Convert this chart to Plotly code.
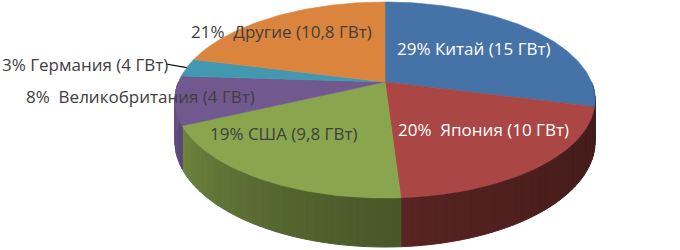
import math
import plotly.graph_objects as go

# ---- data ----
countries = ["Китай", "Япония", "США", "Великобритания", "Германия", "Другие"]
percents = [29, 20, 19, 8, 3, 21]
capacity_gw = ["15", "10", "9,8", "4", "4", "10,8"]

# ---- style ----
colors = ["#4572A7", "#AA4643", "#89A54E", "#71588F", "#4198AF", "#DB843D"]
label_colors = ["white", "white", "#404040", "#404040", "#404040", "#404040"]
label_gap = [" ", "\u00a0 ", " ", "\u00a0 ", " ", "\u00a0 "]
label_pos = [(473, 48, "center"), (483, 129, "center"), (283, 133, "center"),
             (140, 96, "center"), (0, 64, "left"), (281, 31, "center")]
FONT = "Open Sans"
FSIZE = 17

# pseudo-perspective geometry of the 3D pie (pixel space)
CX, CY = 385.0, 82.0
K = 0.1837
A = 206.5
B = 94.7
DEPTH = 40.0


def proj(theta_deg, drop=0.0):
    t = math.radians(theta_deg)
    u, v = math.sin(t), math.cos(t)
    den = 1 + K * v
    return CX + A * u / den, CY + (-B * v + drop) / den


def hex_rgb(h):
    h = h.lstrip("#")
    return tuple(int(h[i:i + 2], 16) for i in (0, 2, 4))


def shade(h, f):
    r, g, b = hex_rgb(h)
    return "rgb(%d,%d,%d)" % (min(255, r * f), min(255, g * f), min(255, b * f))


def arc(a, b, drop=0.0, step=1.0):
    n = max(2, int(abs(b - a) / step) + 1)
    return [proj(a + (b - a) * i / (n - 1), drop) for i in range(n)]


total = sum(percents)
bounds = []
acc = 0.0
for p in percents:
    a = acc / total * 360
    acc += p
    bounds.append((a, acc / total * 360))

fig = go.Figure()

# side walls (front half), drawn first
for (a, b), col in zip(bounds, colors):
    lo, hi = max(a, 90), min(b, 270)
    if hi <= lo:
        continue
    n = max(1, int((hi - lo) / 2))
    for i in range(n):
        s0 = lo + (hi - lo) * i / n
        s1 = lo + (hi - lo) * (i + 1) / n
        tm = ((s0 + s1) / 2 - 90) / 180
        f = 0.40 + 0.55 * tm ** 2
        top = arc(s0, s1, 0, 0.5)
        bot = arc(s1, s0, DEPTH, 0.5)
        pts = top + bot + [top[0]]
        c = shade(col, f)
        fig.add_trace(go.Scatter(x=[p[0] for p in pts], y=[p[1] for p in pts],
                                 mode="lines", fill="toself", fillcolor=c,
                                 line=dict(color=c, width=1), hoverinfo="skip"))

# top faces
for (a, b), col in zip(bounds, colors):
    pts = [(CX, CY)] + arc(a, b) + [(CX, CY)]
    fig.add_trace(go.Scatter(x=[p[0] for p in pts], y=[p[1] for p in pts],
                             mode="lines", fill="toself", fillcolor=col,
                             line=dict(color=col, width=0.6), hoverinfo="skip"))

# labels
for i, (name, pct, gw) in enumerate(zip(countries, percents, capacity_gw)):
    x, y, anc = label_pos[i]
    fig.add_annotation(x=x, y=y, text=f"{pct}%{label_gap[i]}{name} ({gw} ГВт)", showarrow=False,
                       xanchor=anc, yanchor="middle",
                       font=dict(family=FONT, size=FSIZE, color=label_colors[i]))

# leader line for Germany
gi = countries.index("Германия")
mid = sum(bounds[gi]) / 2
ex, ey = proj(mid)
fig.add_trace(go.Scatter(x=[166, ex], y=[label_pos[gi][1], ey], mode="lines",
                         line=dict(color="#000000", width=1.2), hoverinfo="skip"))

fig.update_layout(
    width=680, height=250, margin=dict(l=0, r=0, t=0, b=0),
    paper_bgcolor="white", plot_bgcolor="white", showlegend=False,
    xaxis=dict(range=[0, 680], visible=False, fixedrange=True),
    yaxis=dict(range=[250, 0], visible=False, fixedrange=True),
)
fig.write_html("out.html")
